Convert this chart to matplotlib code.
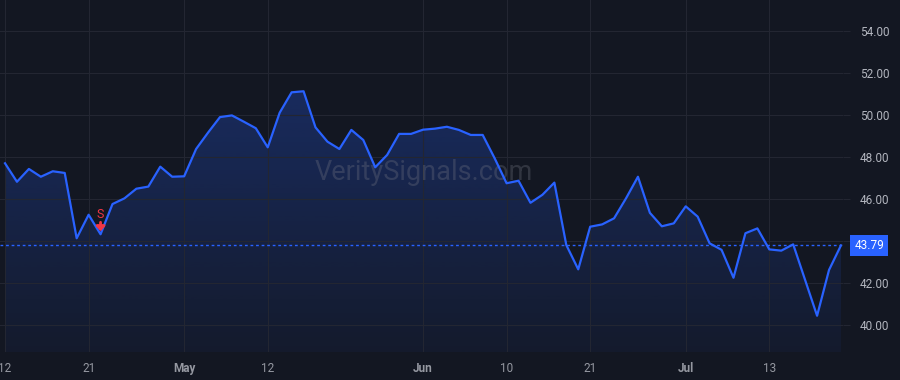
import matplotlib

matplotlib.use("Agg")
import matplotlib.pyplot as plt
import numpy as np
import pandas as pd
from matplotlib.transforms import offset_copy

plt.rcParams["font.family"] = ["Roboto", "DejaVu Sans"]

# trading days 2021-04-12 .. 2021-07-21 (Memorial Day and July 4th observed closed)
holidays = ["2021-05-31", "2021-07-05"]
dates = pd.bdate_range("2021-04-12", "2021-07-21", freq="C", holidays=holidays)

close = [
    47.70, 46.82, 47.43, 47.06, 47.32, 47.24, 44.13, 45.25, 44.32, 45.76,
    46.03, 46.49, 46.59, 47.54, 47.06, 47.08, 48.38, 49.16, 49.90, 49.98,
    49.68, 49.37, 48.46, 50.11, 51.08, 51.13, 49.41, 48.73, 48.38, 49.29,
    48.81, 47.51, 48.10, 49.10, 49.10, 49.30, 49.35, 49.44, 49.29, 49.05,
    49.05, 47.94, 46.75, 46.87, 45.82, 46.20, 46.78, 43.81, 42.65, 44.68,
    44.79, 45.08, 46.03, 47.06, 45.34, 44.70, 44.84, 45.65, 45.16, 43.89,
    43.58, 42.25, 44.37, 44.60, 43.60, 43.54, 43.84, 42.14, 40.44, 42.62,
    43.79,
]

tick_dates = ["2021-04-12", "2021-04-21", "2021-05-03", "2021-05-12", "2021-06-01",
              "2021-06-10", "2021-06-21", "2021-07-01", "2021-07-13"]
tick_labels = ["12", "21", "May", "12", "Jun", "10", "21", "Jul", "13"]
month_labels = {"May", "Jun", "Jul"}

price_ticks = [40, 42, 44, 46, 48, 50, 52, 54]
sell_dates = ["2021-04-22"]

BG = "#131722"
GRID = "#232632"
LINE = "#2962ff"
TEXT = "#b2b5be"
RED = "#f23645"

x = np.arange(len(dates))
y = np.array(close)

fig = plt.figure(figsize=(9, 3.8), dpi=100, facecolor=BG)
ax = fig.add_axes([0, 28 / 380, 843 / 900, 352 / 380], facecolor=BG)
ax.set_xlim(-0.42, 70.17)
ax.set_ylim(38.714, 55.476)

# gradient area under the line
ymin, ymax = ax.get_ylim()
rgba = np.zeros((256, 1, 4))
rgba[..., :3] = matplotlib.colors.to_rgb(LINE)
rgba[:, 0, 3] = np.linspace(0.05, 0.27, 256)
fill = ax.fill_between(x, y, ymin, color="none", lw=0)
img = ax.imshow(rgba, extent=[x[0], x[-1], ymin, y.max()], origin="lower",
                aspect="auto", zorder=1)
img.set_clip_path(fill.get_paths()[0], transform=ax.transData)

ax.plot(x, y, color=LINE, lw=1.6, zorder=3, solid_joinstyle="round")
ax.axhline(y[-1], color=LINE, lw=1, ls=(0, (2, 2)), zorder=2)

# grid and axes; the label under the last-price box is hidden, as in the source
ax.set_yticks(price_ticks)
ax.set_yticklabels(["" if abs(v - y[-1]) < 0.6 else f"{v:.2f}" for v in price_ticks])
ax.yaxis.tick_right()
ax.tick_params(axis="y", length=5, width=0.8, color=GRID, pad=7,
               labelsize=8.5, labelcolor=TEXT)
tick_pos = dates.get_indexer(pd.to_datetime(tick_dates))
ax.set_xticks(tick_pos)
ax.set_xticklabels(tick_labels)
ax.tick_params(axis="x", length=0, pad=7, labelsize=8.5, labelcolor="#9598a1")
for lbl in ax.get_xticklabels():
    if lbl.get_text() in month_labels:
        lbl.set_fontweight("bold")
ax.grid(True, color=GRID, lw=0.8, zorder=0)
for s in ax.spines.values():
    s.set_visible(False)

# last price label
ax.text(1.031, y[-1], f"{y[-1]:.2f}", transform=ax.get_yaxis_transform(),
        ha="center", va="center", color="white", fontsize=8.5, clip_on=False,
        bbox=dict(boxstyle="square,pad=0.32", fc=LINE, ec="none"))

# watermark
ax.text(0.503, 0.511, "VeritySignals.com", transform=ax.transAxes, ha="center",
        va="center", fontsize=19.5, color="#787b86", alpha=0.3, zorder=2)

# sell signals
for d in sell_dates:
    i = dates.get_loc(pd.Timestamp(d))
    v = y[i]
    ax.annotate("", xy=(i, v), xycoords=offset_copy(ax.transData, fig=fig, y=3, units="dots"),
                xytext=(i, v), textcoords=offset_copy(ax.transData, fig=fig, y=12, units="dots"),
                arrowprops=dict(arrowstyle="-|>,head_length=0.3,head_width=0.28",
                                color=RED, lw=2.0, mutation_scale=9,
                                shrinkA=0, shrinkB=0), zorder=4)
    ax.text(i, v, "S", transform=offset_copy(ax.transData, fig=fig, y=20, units="dots"),
            ha="center", va="center", color=RED, fontsize=9, zorder=4)

fig.savefig("out.png", dpi=100, facecolor=BG)
